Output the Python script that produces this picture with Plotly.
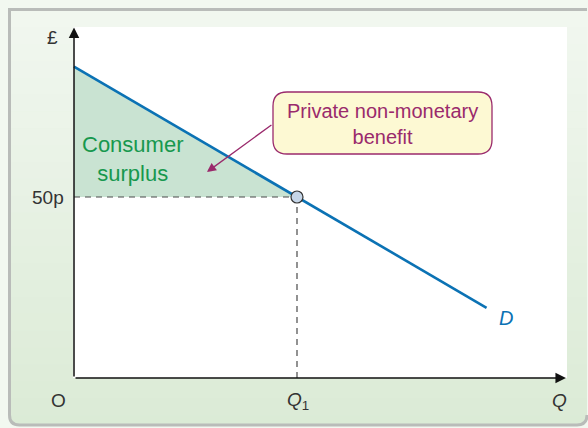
import plotly.graph_objects as go

# demand curve (quantity in units of Q1, price in pence)
demand_q = [0, 1, 1.85]
demand_p = [86, 50, 19.4]

# consumer surplus triangle
surplus_q = [0, 0, 1, 0]
surplus_p = [50, 86, 50, 50]

q1 = 1
p1 = 50

W, H = 588, 428


def px(x):
    return x / W


def py(y):
    return 1 - y / H


def lerp_hex(c0, c1, t):
    a = [int(c0[i:i + 2], 16) for i in (1, 3, 5)]
    b = [int(c1[i:i + 2], 16) for i in (1, 3, 5)]
    return "#" + "".join(f"{round(a[i] + (b[i] - a[i]) * t):02x}" for i in range(3))


def rounded_rect(x0, y0, x1, y1, r):
    return (f"M {px(x0 + r)},{py(y0)} L {px(x1 - r)},{py(y0)} "
            f"Q {px(x1)},{py(y0)} {px(x1)},{py(y0 + r)} L {px(x1)},{py(y1 - r)} "
            f"Q {px(x1)},{py(y1)} {px(x1 - r)},{py(y1)} L {px(x0 + r)},{py(y1)} "
            f"Q {px(x0)},{py(y1)} {px(x0)},{py(y1 - r)} L {px(x0)},{py(y0 + r)} "
            f"Q {px(x0)},{py(y0)} {px(x0 + r)},{py(y0)} Z")


def panel_path(x0, y0, x1, y1, r, closed):
    # square top corners, rounded bottom corners
    p = (f"M {px(x1)},{py(y0)} L {px(x0)},{py(y0)} L {px(x0)},{py(y1 - r)} "
         f"Q {px(x0)},{py(y1)} {px(x0 + r)},{py(y1)} L {px(x1 - r)},{py(y1)} "
         f"Q {px(x1)},{py(y1)} {px(x1)},{py(y1 - r)}")
    return p + " Z" if closed else p


BLUE = "#0b72b4"
MAGENTA = "#9a2a6c"
GREEN_TXT = "#17984e"
FONT = "Liberation Sans"

fig = go.Figure()

fig.add_trace(go.Scatter(x=surplus_q, y=surplus_p, fill="toself", fillcolor="#c9e3d2",
                         mode="none", hoverinfo="skip"))
fig.add_trace(go.Scatter(x=[0, q1], y=[p1, p1], mode="lines",
                         line=dict(color="#4a4a4a", width=1.2, dash="6px,5px")))
fig.add_trace(go.Scatter(x=[q1, q1], y=[0, p1], mode="lines",
                         line=dict(color="#4a4a4a", width=1.2, dash="6px,5px")))
fig.add_trace(go.Scatter(x=demand_q, y=demand_p, mode="lines",
                         line=dict(color=BLUE, width=2.6)))
fig.add_trace(go.Scatter(x=[q1], y=[p1], mode="markers",
                         marker=dict(size=12, color="#c6d6e8", line=dict(color="#333333", width=1.2))))

# background panel with a soft vertical gradient
shapes = []
shapes.append(dict(type="path", path=panel_path(10, 10, 587, 425, 10, True), xref="paper", yref="paper",
                   fillcolor="#dbebd6", line=dict(width=0), layer="below"))
n = 24
top, bot = 10, 415
for i in range(n):
    y0 = top + (bot - top) * i / n
    y1 = top + (bot - top) * (i + 1) / n + 0.6
    shapes.append(dict(type="rect", xref="paper", yref="paper", x0=px(10), x1=px(587),
                       y0=py(y0), y1=py(y1), fillcolor=lerp_hex("#f1f7ef", "#dcebd7", i / (n - 1)),
                       line=dict(width=0), layer="below"))
shapes.append(dict(type="path", path=panel_path(9.5, 9.5, 587, 425, 10, False), xref="paper", yref="paper",
                   line=dict(color="#b9bcb9", width=3), layer="below"))
# white plotting area
shapes.append(dict(type="rect", xref="paper", yref="paper", x0=px(73), x1=px(567), y0=py(378), y1=py(27),
                   fillcolor="white", line=dict(width=0), layer="below"))
# callout box
shapes.append(dict(type="path", path=rounded_rect(273, 92, 492, 154, 14), xref="paper", yref="paper",
                   fillcolor="#fdf9d3", line=dict(color=MAGENTA, width=1.3), layer="below"))

ann = []
# axes with arrowheads
ann.append(dict(x=0, y=96.8, ax=0, ay=0, xref="x", yref="y", axref="x", ayref="y", text="",
                showarrow=True, arrowhead=2, arrowsize=1.4, arrowwidth=1.5, arrowcolor="#111111"))
ann.append(dict(x=2.206, y=0, ax=0, ay=0, xref="x", yref="y", axref="x", ayref="y", text="",
                showarrow=True, arrowhead=2, arrowsize=1.4, arrowwidth=1.5, arrowcolor="#111111"))
# callout arrow
ann.append(dict(x=0.596, y=56.9, ax=0.892, ay=70.2, xref="x", yref="y", axref="x", ayref="y", text="",
                showarrow=True, arrowhead=2, arrowsize=1.4, arrowwidth=1.3, arrowcolor=MAGENTA))


def label(x, y, text, size=19, color="#333333", xanchor="center"):
    ann.append(dict(x=px(x), y=py(y), xref="paper", yref="paper", text=text, showarrow=False,
                    xanchor=xanchor, yanchor="middle", font=dict(family=FONT, size=size, color=color)))


label(52, 38, "£")
label(66, 197, "50p", xanchor="right")
label(58, 400, "O")
label(298, 401, "<i>Q</i><sub>1</sub>")
label(559, 400, "<i>Q</i>")
label(506, 318, "<i>D</i>", size=20, color=BLUE)
label(132, 159, "Consumer<br>surplus", size=22, color=GREEN_TXT)
label(382, 124, "Private non-monetary<br>benefit", size=20, color=MAGENTA)

fig.update_layout(
    width=W, height=H, margin=dict(l=0, r=0, t=0, b=0),
    paper_bgcolor="#f2f8f0", plot_bgcolor="rgba(0,0,0,0)",
    showlegend=False, shapes=shapes, annotations=ann,
    xaxis=dict(domain=[px(73), px(567)], range=[-1 / 223, 493 / 223], visible=False, fixedrange=True),
    yaxis=dict(domain=[py(378), py(27)], range=[0, 351 / 3.62], visible=False, fixedrange=True),
)

# the page's default 8px body margin would shift everything
fig.write_html("out.html", config={"displayModeBar": False},
               post_script="document.body.style.margin='0';")
